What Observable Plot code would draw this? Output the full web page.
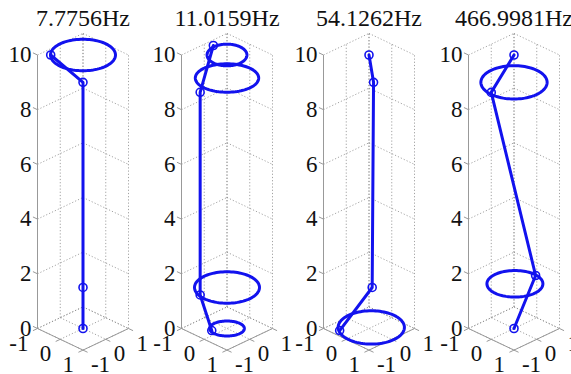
<!DOCTYPE html>
<html><head><meta charset="utf-8">
<script src="https://cdn.jsdelivr.net/npm/d3@7"></script>
<script src="https://cdn.jsdelivr.net/npm/@observablehq/plot@0.6"></script>
<style>
html,body{margin:0;padding:0;background:#fff;}
#chart{position:relative;width:571px;height:374px;overflow:hidden;background:#fff;}
.panel{position:absolute;top:0;width:150px;height:374px;}
.panel svg{max-width:none !important;overflow:visible;}
</style></head><body><div id="chart"></div>
<script>
// ---- data ----
const modes = ["7.7756Hz", "11.0159Hz", "54.1262Hz", "466.9981Hz"];
const zTicks = [0, 2, 4, 6, 8, 10];
const xyTicks = [-1, 0, 1];
// node heights (same for every mode) and displaced node positions per mode
const nodeZ = [0, 1.5, 9, 10];
const nodeX = [
  [0, 0, 0, -0.71],
  [-0.24, -0.245, -0.13, -0.74],
  [-0.55, 0.07, 0.1, 0],
  [0, -0.08, -0.035, 0]
];
const nodeY = [
  [0, 0, 0, -0.71],
  [-0.43, -0.935, -1.05, 0.14],
  [-0.74, 0.07, 0.1, 0],
  [0, 1.03, -0.965, 0]
];
// node orbits (ellipses in horizontal planes): mode index, height, centre, semi-axes
const orbitMode = [0, 1, 1, 1, 1, 2, 3, 3];
const orbitZ    = [10, 10, 9, 1.5, 0, 0, 9, 1.5];
const orbitCX   = [0, 0, -0.2, 0, 0, 0, 0, -0.15];
const orbitCY   = [0, 0, 0.2, 0, 0, 0.1, 0, 0.19];
const orbitA    = [1.01, 0.62, 0.985, 1.01, 0.54, 1.03, 1.03, 0.87];
const orbitB    = [1.03, 0.71, 0.93, 1.03, 0.49, 1.09, 1.09, 0.87];

// ---- view (3-D projection) ----
const H = 22.75, E = 10.8, Zs = 27.35;
const proj = (x, y, z) => ({u: H * (x + y), v: Zs * z - E * (x - y)});
const zMax = d3.max(zTicks), lo = d3.min(xyTicks), hi = d3.max(xyTicks);

// ---- layout ----
const panelLeft = [0, 144.4, 286.2, 431];
const W = 150, HT = 374, CX = 82.5, CY = 328;
const blue = "#1212ee";
const serif = "Liberation Serif";

function seg(a, b) { const p = proj(...a), q = proj(...b); return {u1: p.u, v1: p.v, u2: q.u, v2: q.v}; }
const grid = [];
for (const z of zTicks) { grid.push(seg([lo, lo, z], [lo, hi, z])); grid.push(seg([lo, hi, z], [hi, hi, z])); }
for (const t of xyTicks) {
  grid.push(seg([lo, t, 0], [lo, t, zMax]));
  grid.push(seg([t, hi, 0], [t, hi, zMax]));
  grid.push(seg([t, lo, 0], [t, hi, 0]));
  grid.push(seg([lo, t, 0], [hi, t, 0]));
}
const axes = [seg([lo, lo, 0], [lo, lo, zMax]), seg([lo, lo, 0], [hi, lo, 0]), seg([hi, lo, 0], [hi, hi, 0])];
const tl = 0.2;
for (const z of zTicks) axes.push(seg([lo, lo, z], [lo - tl, lo, z]));
for (const t of xyTicks) { axes.push(seg([t, lo, 0], [t, lo - tl, 0])); axes.push(seg([hi, t, 0], [hi + tl, t, 0])); }
const zLabels = zTicks.map(z => ({...proj(lo, lo, z), t: String(z)}));
const xLabels = xyTicks.map(x => ({...proj(x, lo - 0.35, 0), t: String(x)}));
const yLabels = xyTicks.map(y => ({...proj(hi + 0.35, y, 0), t: String(y)}));

const chart = document.getElementById("chart");
modes.forEach((mode, m) => {
  const nodes = nodeZ.map((z, i) => proj(nodeX[m][i], nodeY[m][i], z));
  const orbits = [];
  orbitMode.forEach((om, k) => {
    if (om !== m) return;
    for (let j = 0; j <= 96; j++) {
      const t = 2 * Math.PI * j / 96;
      const ca = orbitA[k] * Math.cos(t) / Math.SQRT2, sb = orbitB[k] * Math.sin(t) / Math.SQRT2;
      orbits.push({...proj(orbitCX[k] + ca + sb, orbitCY[k] + ca - sb, orbitZ[k]), k});
    }
  });
  const svg = Plot.plot({
    width: W, height: HT,
    marginTop: 0, marginRight: 0, marginBottom: 0, marginLeft: 0,
    x: {domain: [-CX, W - CX], range: [0, W], axis: null},
    y: {domain: [CY - HT, CY], range: [HT, 0], axis: null},
    style: {overflow: "visible", background: "transparent"},
    marks: [
      Plot.link(grid, {x1: "u1", y1: "v1", x2: "u2", y2: "v2", stroke: "#8c8c8c", strokeWidth: 0.8, strokeDasharray: "1.2,2"}),
      Plot.link(axes, {x1: "u1", y1: "v1", x2: "u2", y2: "v2", stroke: "#999", strokeWidth: 1}),
      Plot.text(zLabels, {x: "u", y: "v", text: "t", textAnchor: "end", lineAnchor: "middle", dx: -6, fontSize: 23, fill: "#111"}),
      Plot.text(xLabels, {x: "u", y: "v", text: "t", textAnchor: "end", lineAnchor: "middle", dx: -1, dy: 11, fontSize: 23, fill: "#111"}),
      Plot.text(yLabels, {x: "u", y: "v", text: "t", textAnchor: "start", lineAnchor: "middle", dy: 11, fontSize: 23, fill: "#111"}),
      Plot.line(orbits, {x: "u", y: "v", z: "k", stroke: blue, strokeWidth: 3}),
      Plot.line(nodes, {x: "u", y: "v", stroke: blue, strokeWidth: 3}),
      Plot.dot(nodes, {x: "u", y: "v", r: 4, stroke: blue, strokeWidth: 1.6, fill: "none"}),
      Plot.text([{u: 0, t: mode}], {x: "u", frameAnchor: "top", text: "t", dy: 25, lineAnchor: "bottom", fontSize: 24, fill: "#111"})
    ]
  });
  svg.querySelectorAll("text").forEach(t => { t.setAttribute("font-family", serif); t.style.fontFamily = serif; });
  svg.setAttribute("font-family", serif);
  const div = document.createElement("div");
  div.className = "panel";
  div.style.left = panelLeft[m] + "px";
  div.appendChild(svg);
  chart.appendChild(div);
});
</script></body></html>
